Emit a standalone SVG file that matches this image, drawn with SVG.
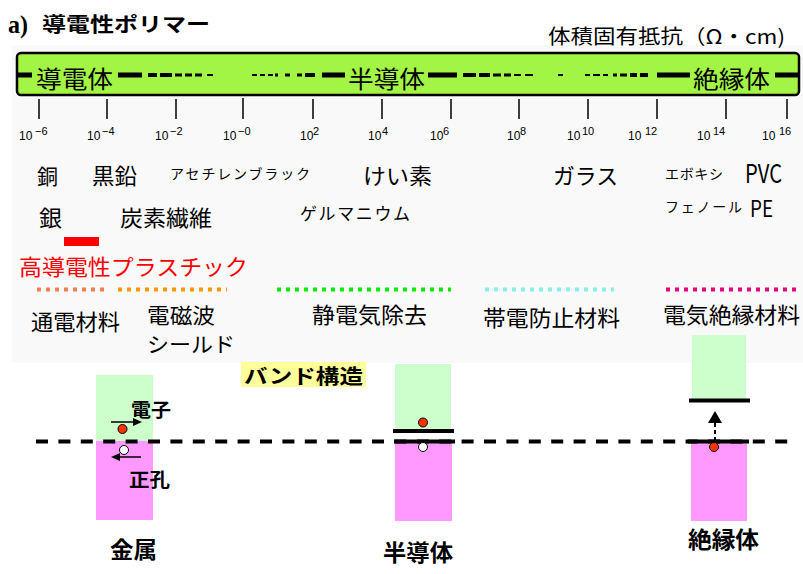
<svg xmlns="http://www.w3.org/2000/svg" width="803" height="574" viewBox="0 0 803 574">
<style>
.jp{font-family:"Noto Sans CJK JP","Noto Sans",sans-serif;fill:#000}
.b{font-weight:bold}
.num{font-family:"Liberation Sans",Arial,sans-serif;font-size:12px;fill:#000}
.sup{font-size:11px}
.tick{stroke:#000;stroke-width:1.5}
.dk{fill:#000}
.dot{fill:none;stroke-width:4;stroke-dasharray:4 5}
.cb{fill:#ccffcc}
.vb{fill:#ff99ff}
.lvl{stroke:#000;stroke-width:4}
.el{fill:#ff3300;stroke:#000;stroke-width:1}
.ho{fill:#fff;stroke:#000;stroke-width:1}
</style>
<rect width="803" height="574" fill="#fff"/>
<rect x="12" y="45" width="791" height="318" fill="#f9f9f9"/>

<g id="title">
<text x="8" y="33" style="font-family:'Liberation Serif',serif;font-weight:bold;font-size:25px" textLength="20" lengthAdjust="spacingAndGlyphs">a)</text>
<text x="42" y="32" class="jp b" font-size="20" textLength="168" lengthAdjust="spacingAndGlyphs">導電性ポリマー</text>
</g>
<g id="axis-title"><text x="548" y="44" class="jp" font-size="20" textLength="237" lengthAdjust="spacingAndGlyphs">体積固有抵抗（Ω・cm)</text></g>

<g id="scale-bar">
<rect x="17" y="53" width="782" height="42" rx="4" fill="#a3f545" stroke="#000" stroke-width="2.5"/>
<g class="dk">
<rect x="17" y="72.5" width="15" height="5"/><rect x="118" y="72.5" width="24" height="5"/><rect x="322" y="72.5" width="23" height="5"/><rect x="428" y="72.5" width="29" height="5"/><rect x="657" y="72.5" width="33" height="5"/><rect x="775" y="72.5" width="23" height="5"/>
<rect x="148" y="73" width="9" height="4"/><rect x="160" y="73" width="12" height="4"/><rect x="175" y="73.5" width="7" height="3"/><rect x="185" y="73.5" width="7" height="3"/><rect x="195" y="73.5" width="7" height="3"/><rect x="207" y="74" width="6" height="2"/>
<rect x="252" y="74" width="5" height="2"/><rect x="260" y="74" width="5" height="2"/><rect x="268" y="74" width="5" height="2"/><rect x="275" y="73.5" width="3" height="3"/><rect x="285" y="73.5" width="5" height="3"/><rect x="297" y="73.5" width="5" height="3"/><rect x="305" y="73" width="10" height="4"/>
<rect x="463" y="73" width="13" height="4"/><rect x="479" y="73" width="11" height="4"/><rect x="493" y="73.5" width="8" height="3"/><rect x="504" y="73.5" width="7" height="3"/><rect x="514" y="74" width="7" height="2"/><rect x="525" y="74" width="8" height="2"/>
<rect x="558" y="74" width="5" height="2"/><rect x="585" y="74" width="5" height="2"/><rect x="593" y="74" width="7" height="2"/><rect x="603" y="74" width="5" height="2"/><rect x="613" y="73.5" width="4" height="3"/><rect x="620" y="73.5" width="7" height="3"/><rect x="630" y="73" width="7" height="4"/><rect x="640" y="73" width="8" height="4"/>
</g>
<text x="36" y="88" class="jp" font-size="24" textLength="77" lengthAdjust="spacingAndGlyphs">導電体</text>
<text x="348" y="88" class="jp" font-size="24" textLength="77" lengthAdjust="spacingAndGlyphs">半導体</text>
<text x="693" y="88" class="jp" font-size="24" textLength="77" lengthAdjust="spacingAndGlyphs">絶縁体</text>
</g>

<g id="ticks">
<path class="tick" d="M39 99V119M107 99V119M176 99V119M243 98V119M313 99V119M382 99V119M451 99V119M519 99V119M588 99V119M657 99V119M726 99V119M787 99V119"/>
<text class="num" y="140"><tspan x="19">10</tspan><tspan class="sup" x="35" y="135">−6</tspan></text>
<text class="num" y="140"><tspan x="87">10</tspan><tspan class="sup" x="102" y="135">−4</tspan></text>
<text class="num" y="140"><tspan x="155">10</tspan><tspan class="sup" x="170" y="135">−2</tspan></text>
<text class="num" y="140"><tspan x="223">10</tspan><tspan class="sup" x="238" y="135">−0</tspan></text>
<text class="num" y="140"><tspan x="300">10</tspan><tspan class="sup" x="313" y="135">2</tspan></text>
<text class="num" y="140"><tspan x="368">10</tspan><tspan class="sup" x="382" y="135">4</tspan></text>
<text class="num" y="140"><tspan x="430">10</tspan><tspan class="sup" x="443" y="135">6</tspan></text>
<text class="num" y="140"><tspan x="507">10</tspan><tspan class="sup" x="520" y="135">8</tspan></text>
<text class="num" y="140"><tspan x="567">10</tspan><tspan class="sup" x="582" y="135">10</tspan></text>
<text class="num" y="140"><tspan x="628">10</tspan><tspan class="sup" x="645" y="135">12</tspan></text>
<text class="num" y="140"><tspan x="697">10</tspan><tspan class="sup" x="713" y="135">14</tspan></text>
<text class="num" y="140"><tspan x="762">10</tspan><tspan class="sup" x="779" y="135">16</tspan></text>
</g>

<g id="materials">
<text x="37" y="184" class="jp" font-size="21" textLength="21" lengthAdjust="spacingAndGlyphs">銅</text>
<text x="92" y="184" class="jp" font-size="22" textLength="45" lengthAdjust="spacingAndGlyphs">黒鉛</text>
<text x="170" y="179" class="jp" font-size="14" textLength="140" lengthAdjust="spacing">アセチレンブラック</text>
<text x="363" y="184" class="jp" font-size="22" textLength="69" lengthAdjust="spacingAndGlyphs">けい素</text>
<text x="553" y="184" class="jp" font-size="22" textLength="65" lengthAdjust="spacingAndGlyphs">ガラス</text>
<text x="665" y="179" class="jp" font-size="14" textLength="58" lengthAdjust="spacing">エボキシ</text>
<text x="745" y="183" class="jp" font-size="26" textLength="37" lengthAdjust="spacingAndGlyphs">PVC</text>
<text x="39" y="226" class="jp" font-size="22" textLength="23" lengthAdjust="spacingAndGlyphs">銀</text>
<text x="120" y="226" class="jp" font-size="22" textLength="92" lengthAdjust="spacingAndGlyphs">炭素繊維</text>
<text x="300" y="220" class="jp" font-size="17" textLength="110" lengthAdjust="spacing">ゲルマニウム</text>
<text x="665" y="212" class="jp" font-size="14" textLength="77" lengthAdjust="spacing">フェノール</text>
<text x="750" y="217" class="jp" font-size="23" textLength="23" lengthAdjust="spacingAndGlyphs">PE</text>
</g>

<g id="conductive-plastic">
<rect x="64" y="237" width="35" height="9" fill="#ff0000"/>
<text x="19" y="275" class="jp" font-size="22" style="fill:#ff0000" textLength="229" lengthAdjust="spacingAndGlyphs">高導電性プラスチック</text>
</g>

<g id="applications">
<line class="dot" x1="37" y1="289.5" x2="107" y2="289.5" stroke="#f08050"/>
<line class="dot" x1="118" y1="289.5" x2="227" y2="289.5" stroke="#ff9900"/>
<line class="dot" x1="277" y1="289.5" x2="451" y2="289.5" stroke="#00ee00"/>
<line class="dot" x1="485" y1="289.5" x2="614" y2="289.5" stroke="#88eeee"/>
<line class="dot" x1="666" y1="289.5" x2="799" y2="289.5" stroke="#e6007e"/>
<text x="31" y="330" class="jp" font-size="22" textLength="89" lengthAdjust="spacingAndGlyphs">通電材料</text>
<text x="147" y="323" class="jp" font-size="21" textLength="68" lengthAdjust="spacingAndGlyphs">電磁波</text>
<text x="147" y="352" class="jp" font-size="21" textLength="88" lengthAdjust="spacingAndGlyphs">シールド</text>
<text x="312" y="323" class="jp" font-size="22" textLength="115" lengthAdjust="spacingAndGlyphs">静電気除去</text>
<text x="483" y="326" class="jp" font-size="22" textLength="137" lengthAdjust="spacingAndGlyphs">帯電防止材料</text>
<text x="663" y="323" class="jp" font-size="22" textLength="137" lengthAdjust="spacingAndGlyphs">電気絶縁材料</text>
</g>

<g id="band-title">
<rect x="241" y="362" width="125" height="25" fill="#ffff99"/>
<text x="244" y="384" class="jp b" font-size="20" textLength="119" lengthAdjust="spacingAndGlyphs">バンド構造</text>
</g>

<g id="metal">
<rect class="cb" x="96" y="375" width="57" height="66"/>
<rect class="vb" x="96" y="441" width="57" height="79"/>
</g>
<g id="semiconductor">
<rect class="cb" x="395" y="364" width="56" height="67"/>
<rect class="vb" x="395" y="442" width="57" height="79"/>
</g>
<g id="insulator">
<rect class="cb" x="692" y="335" width="54" height="66"/>
<rect class="vb" x="691" y="442" width="56" height="79"/>
</g>

<g id="connectors">
<line x1="36" y1="441.5" x2="792" y2="441.5" stroke="#000" stroke-width="4" stroke-dasharray="12 10.4"/>
<line class="lvl" x1="393" y1="431" x2="454" y2="431"/>
<line class="lvl" x1="394" y1="441.5" x2="455" y2="441.5"/>
<line class="lvl" x1="689" y1="400.5" x2="750" y2="400.5"/>
<line class="lvl" x1="688" y1="441.5" x2="749" y2="441.5"/>
<line x1="111" y1="422" x2="134" y2="422" stroke="#000" stroke-width="1.5"/>
<polygon points="133,418 142,422 133,426" fill="#000"/>
<line x1="141" y1="457" x2="119" y2="457" stroke="#000" stroke-width="1.5"/>
<polygon points="120,453 111,457 120,461" fill="#000"/>
<line x1="715" y1="441" x2="715" y2="422" stroke="#000" stroke-width="2" stroke-dasharray="4 3"/>
<polygon points="708,423 722,423 715,411" fill="#000"/>
</g>

<g id="carriers">
<circle class="el" cx="122.5" cy="429" r="4.5"/>
<circle class="ho" cx="124" cy="450" r="4.5"/>
<circle class="el" cx="423" cy="422.5" r="4.5"/>
<circle class="ho" cx="423" cy="447" r="4.5"/>
<circle class="el" cx="714" cy="447" r="4.5"/>
</g>

<g id="labels">
<text x="131" y="417" class="jp b" font-size="19" textLength="40" lengthAdjust="spacingAndGlyphs">電子</text>
<text x="129" y="487" class="jp b" font-size="19" textLength="41" lengthAdjust="spacingAndGlyphs">正孔</text>
<text x="110" y="558" class="jp b" font-size="23" textLength="47" lengthAdjust="spacingAndGlyphs">金属</text>
<text x="383" y="561" class="jp b" font-size="23" textLength="70" lengthAdjust="spacingAndGlyphs">半導体</text>
<text x="688" y="548" class="jp b" font-size="23" textLength="71" lengthAdjust="spacingAndGlyphs">絶縁体</text>
</g>
</svg>
